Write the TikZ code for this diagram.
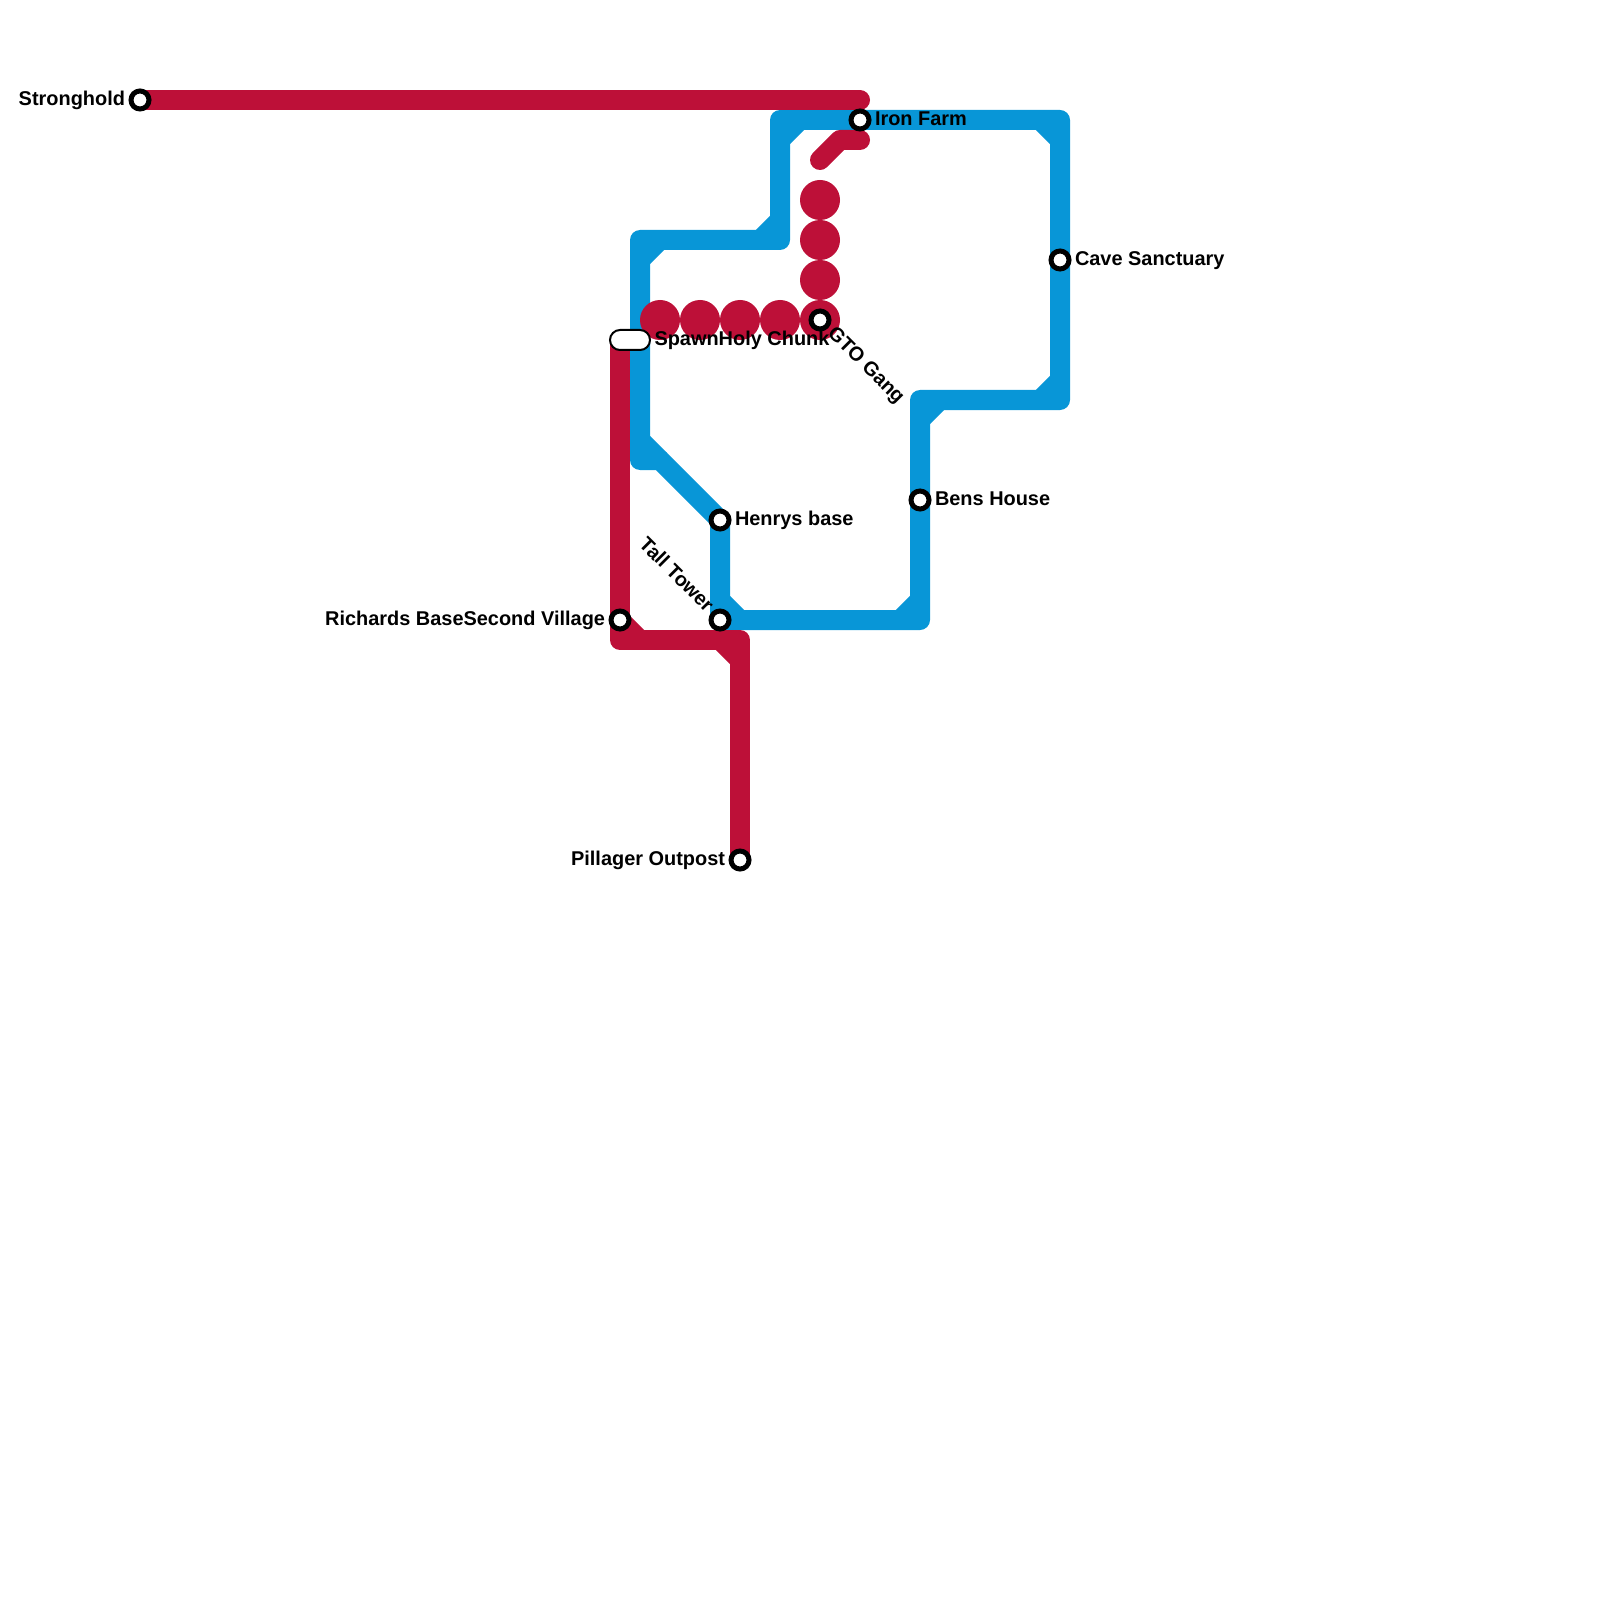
\documentclass[tikz,border=0pt]{standalone}
\usepackage{fontspec}
\setmainfont{Liberation Sans}
\usetikzlibrary{positioning, backgrounds, calc}
\definecolor{linered}{HTML}{BD1038}
\definecolor{lineblue}{HTML}{0896D7}

\begin{document}
\begin{tikzpicture}[
  x = 2mm, y = -2mm,
  tube/.style    = {line width=2mm, line join=round, #1},
  stop/.style    = {circle, draw=black, fill=white, line width=0.5mm,
                    minimum size=1.8mm, inner sep=0pt},
  bigdot/.style  = {circle, fill=linered, minimum size=4mm, inner sep=0pt},
  hub/.style     = {rectangle, rounded corners=1mm, draw=black, fill=white,
                    line width=0.2mm, minimum width=4mm, minimum height=2mm,
                    inner sep=0pt},
  lbl/.style     = {font=\bfseries\fontsize{5.67}{7}\selectfont, inner sep=0pt, outer sep=0pt,
                    text height=1.5mm, text depth=0.45mm},
]
\useasboundingbox (0,0) rectangle (80,80);

% ── Stations ──────────────────────────────────────────────────────────────────
\node[stop] (stronghold) at (7,5)   {};
\node[stop] (ironfarm)   at (43,6)  {};
\node[stop] (cave)       at (53,13) {};
\node[stop] (gto)        at (41,16) {};
\node[stop] (bens)       at (46,25) {};
\node[stop] (henrys)     at (36,26) {};
\node[stop] (village)    at (31,31) {};
\node[stop] (tower)      at (36,31) {};
\node[stop] (pillager)   at (37,43) {};
\node[hub]  (spawn)      at (31.5,17) {};

% ── Corners ───────────────────────────────────────────────────────────────────
\coordinate (redend)   at (43,5);
\coordinate (redstart) at (31,17);
\coordinate (redsw)    at (31,32);
\coordinate (redne)    at (37,32);
\coordinate (stubA)    at (41,8);
\coordinate (stubB)    at (42,7);
\coordinate (stubC)    at (43,7);
\coordinate (blueA)    at (39,6);
\coordinate (blueB)    at (39,12);
\coordinate (blueC)    at (32,12);
\coordinate (blueD)    at (32,23);
\coordinate (blueE)    at (33,23);
\coordinate (blueG)    at (46,31);
\coordinate (blueH)    at (46,20);
\coordinate (blueI)    at (53,20);
\coordinate (blueJ)    at (53,6);

\begin{scope}[on background layer]
% ── Blue line ─────────────────────────────────────────────────────────────────
\draw[tube=lineblue] (ironfarm.center) -- (blueA) -- (blueB) -- (blueC) -- (blueD)
  -- (blueE) -- (henrys.center) -- (tower.center) -- (blueG) -- (bens.center) -- (blueH)
  -- (blueI) -- (cave.center) -- (blueJ) -- cycle;
\foreach \corner/\ax/\ay/\bx/\by in {
    blueA/0/1/1/0, blueB/-1/0/0/-1, blueC/0/1/1/0, blueD/0/-1/1/0, tower/0/-1/1/0,
    blueG/-1/0/0/-1, blueH/0/1/1/0, blueI/-1/0/0/-1, blueJ/-1/0/0/1}
  \draw[tube=lineblue] ($(\corner)+(\ax,\ay)$) -- ($(\corner)+(\bx,\by)$);

% ── Red line ──────────────────────────────────────────────────────────────────
\draw[tube=linered, line cap=round] (stronghold.center) -- (redend);
\draw[tube=linered, line cap=round] (stubA) -- (stubB) -- (stubC);
\draw[tube=linered] (redstart) -- (village.center) -- (redsw) -- (redne) -- (pillager.center);
\foreach \corner/\ax/\ay/\bx/\by in {redsw/0/-1/1/0, redne/-1/0/0/1}
  \draw[tube=linered] ($(\corner)+(\ax,\ay)$) -- ($(\corner)+(\bx,\by)$);

% ── Big dots ──────────────────────────────────────────────────────────────────
\foreach \px/\py [count=\i] in {33/16, 35/16, 37/16, 39/16, 41/16, 41/14, 41/12, 41/10}
  \node[bigdot] (dot\i) at (\px,\py) {};
\end{scope}

% ── Labels ────────────────────────────────────────────────────────────────────
\node[lbl, left=1.5mm of stronghold.center] (strongholdlbl) {Stronghold};
\node[lbl, right=1.5mm of ironfarm.center] (ironfarmlbl) {Iron Farm};
\node[lbl, right=1.5mm of cave.center]     (cavelbl)     {Cave Sanctuary};
\node[lbl, right=1.5mm of bens.center]     (benslbl)     {Bens House};
\node[lbl, right=1.5mm of henrys.center]   (henryslbl)   {Henrys base};
\node[lbl, left=1.5mm of pillager.center]  (pillagerlbl) {Pillager Outpost};
\node[lbl, left=1.5mm of village.center]   (villagelbl)  {Second Village};
\node[lbl, left=0pt of villagelbl]         (richardslbl) {Richards Base};
\node[lbl, right=0.35mm of spawn]          (spawnlbl)    {Spawn};
\node[lbl, right=0pt of spawnlbl]          (holylbl)     {Holy Chunk};
\node[lbl, rotate=-45, anchor=west] (gtolbl)   at ($(gto)+(0.53,0.53)$)     {GTO Gang};
\node[lbl, rotate=-45, anchor=east] (towerlbl) at ($(tower)+(-0.53,-0.53)$) {Tall Tower};

\end{tikzpicture}
\end{document}
